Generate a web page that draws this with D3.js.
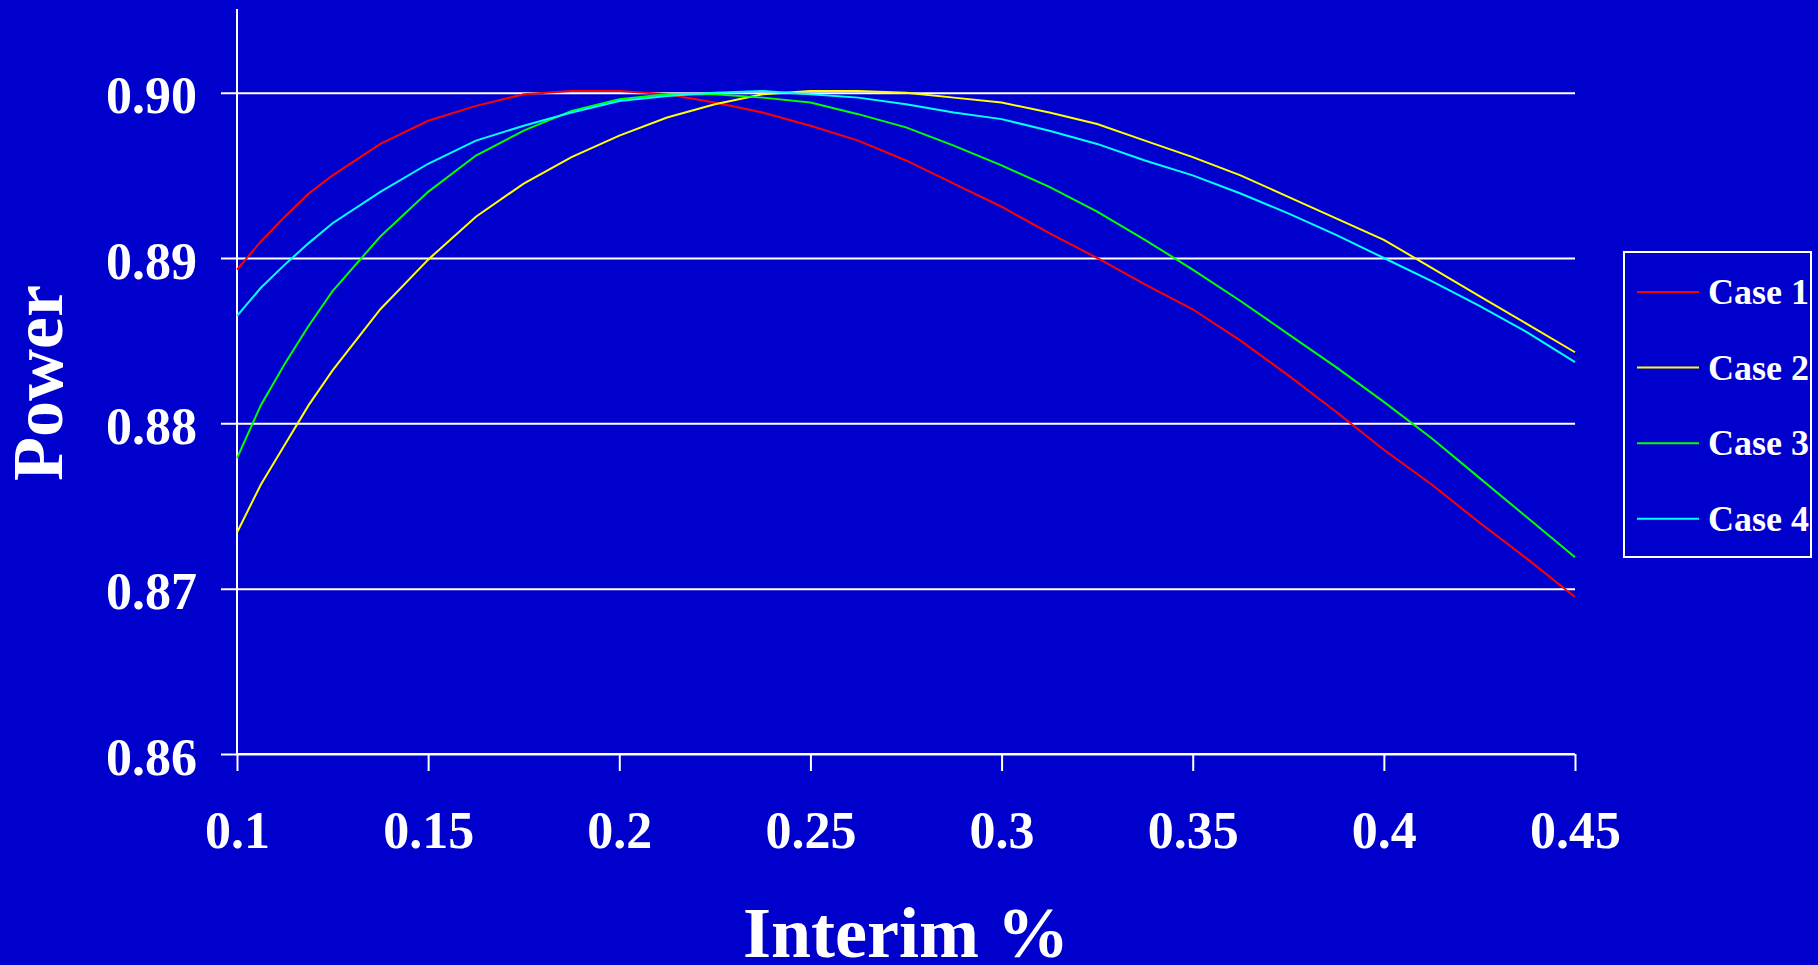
<!DOCTYPE html>
<html>
<head>
    <title>Power vs Interim %</title>
    <script src="https://d3js.org/d3.v7.min.js"></script>
    <style>
        html, body { margin: 0; padding: 0; background: #0000CC; }
        svg { display: block; }
        text { font-family: "Liberation Serif", "Times New Roman", serif; font-weight: bold; fill: #fff; }
    </style>
</head>
<body>
    <svg width="1818" height="965"></svg>
    <script>
        // data
        var interim = [0.1, 0.10625, 0.1125, 0.11875, 0.125, 0.1375, 0.15, 0.1625, 0.175, 0.1875, 0.2,
            0.2125, 0.225, 0.2375, 0.25, 0.2625, 0.275, 0.2875, 0.3, 0.3125, 0.325, 0.3375, 0.35,
            0.3625, 0.375, 0.3875, 0.4, 0.4125, 0.425, 0.4375, 0.45];

        var case1 = [0.8893, 0.8910, 0.8925, 0.8939, 0.8950, 0.8969, 0.8983, 0.8992, 0.8999, 0.9001, 0.9001,
            0.8999, 0.8994, 0.8988, 0.8980, 0.8971, 0.8959, 0.8945, 0.8931, 0.8915, 0.8900, 0.8884, 0.8869,
            0.8850, 0.8829, 0.8807, 0.8784, 0.8763, 0.8740, 0.8718, 0.8695];
        var case2 = [0.8734, 0.8763, 0.8787, 0.8811, 0.8832, 0.8869, 0.8899, 0.8925, 0.8945, 0.8961, 0.8974,
            0.8985, 0.8993, 0.8999, 0.9001, 0.9001, 0.9000, 0.8997, 0.8994, 0.8988, 0.8981, 0.8971, 0.8961,
            0.8950, 0.8937, 0.8924, 0.8911, 0.8894, 0.8877, 0.8860, 0.8843];
        var case3 = [0.8779, 0.8811, 0.8836, 0.8859, 0.8880, 0.8913, 0.8940, 0.8962, 0.8977, 0.8989, 0.8996,
            0.8999, 0.8999, 0.8997, 0.8994, 0.8987, 0.8979, 0.8968, 0.8956, 0.8943, 0.8928, 0.8911, 0.8893,
            0.8874, 0.8854, 0.8834, 0.8813, 0.8791, 0.8767, 0.8743, 0.8719];
        var case4 = [0.8865, 0.8882, 0.8896, 0.8909, 0.8921, 0.8940, 0.8957, 0.8971, 0.8980, 0.8988, 0.8995,
            0.8998, 0.9000, 0.9001, 0.8999, 0.8997, 0.8993, 0.8988, 0.8984, 0.8977, 0.8969, 0.8959, 0.8950,
            0.8939, 0.8927, 0.8914, 0.8900, 0.8886, 0.8871, 0.8855, 0.8837];

        var seriesNames = ["Case 1", "Case 2", "Case 3", "Case 4"];
        var seriesColors = ["#FF0000", "#FFFF00", "#00FF00", "#00FFFF"];
        var xTicks = [0.1, 0.15, 0.2, 0.25, 0.3, 0.35, 0.4, 0.45];
        var yTicks = [0.86, 0.87, 0.88, 0.89, 0.90];

        var svg = d3.select("svg");
        var plotLeft = 237, plotRight = 1575, plotTop = 10, plotBottom = 754;

        var x = d3.scaleLinear().domain([0.1, 0.45]).range([plotLeft, plotRight]);
        var y = d3.scaleLinear().domain([0.86, 0.905]).range([plotBottom, plotTop]);

        // y axis + gridlines
        var yAxis = svg.append("g")
            .attr("transform", "translate(" + plotLeft + ",0)")
            .call(d3.axisLeft(y).tickValues(yTicks).tickFormat(d3.format(".2f")).tickSizeOuter(0));
        yAxis.select(".domain").remove();
        yAxis.selectAll(".tick line")
            .attr("x1", -16).attr("x2", plotRight - plotLeft)
            .attr("stroke", "#fff").attr("stroke-width", 2);
        yAxis.selectAll(".tick text")
            .attr("x", -40).attr("dy", null).attr("y", 20)
            .style("font-size", "52px");

        svg.append("line")
            .attr("x1", plotLeft).attr("x2", plotLeft)
            .attr("y1", 9).attr("y2", plotBottom)
            .attr("stroke", "#fff").attr("stroke-width", 2);

        // x axis
        var xAxis = svg.append("g")
            .attr("transform", "translate(0," + plotBottom + ")")
            .call(d3.axisBottom(x).tickValues(xTicks).tickSize(17).tickSizeOuter(0)
                .tickFormat(function(d) { return String(+d.toFixed(2)); }));
        xAxis.select(".domain").attr("stroke", "#fff").attr("stroke-width", 2)
            .attr("d", "M" + plotLeft + ",0H" + plotRight);
        xAxis.selectAll(".tick line").attr("stroke", "#fff").attr("stroke-width", 2);
        xAxis.selectAll(".tick text")
            .attr("y", 94).attr("dy", null)
            .style("font-size", "52px");

        // series
        var allSeries = [case1, case2, case3, case4];
        var line = d3.line()
            .x(function(d, i) { return x(interim[i]); })
            .y(function(d) { return y(d); });

        svg.selectAll(".series")
            .data(allSeries)
            .enter().append("path")
            .attr("class", "series")
            .attr("fill", "none")
            .attr("stroke", function(d, i) { return seriesColors[i]; })
            .attr("stroke-width", 2)
            .attr("d", line);

        // axis titles
        svg.append("text")
            .attr("x", 906).attr("y", 957)
            .attr("text-anchor", "middle")
            .style("font-size", "72px")
            .text("Interim %");

        svg.append("text")
            .attr("transform", "translate(62,383) rotate(-90)")
            .attr("text-anchor", "middle")
            .style("font-size", "72px")
            .text("Power");

        // legend
        var legend = svg.append("g");
        legend.append("rect")
            .attr("x", 1624).attr("y", 252)
            .attr("width", 187).attr("height", 305)
            .attr("fill", "none").attr("stroke", "#fff").attr("stroke-width", 2);

        var items = legend.selectAll(".item")
            .data(seriesNames)
            .enter().append("g")
            .attr("class", "item")
            .attr("transform", function(d, i) { return "translate(0," + (292 + i * 75.6) + ")"; });
        items.append("line")
            .attr("x1", 1637).attr("x2", 1699)
            .attr("stroke", function(d, i) { return seriesColors[i]; })
            .attr("stroke-width", 2);
        items.append("text")
            .attr("x", 1708).attr("y", 12)
            .style("font-size", "36px")
            .text(function(d) { return d; });
    </script>
</body>
</html>
